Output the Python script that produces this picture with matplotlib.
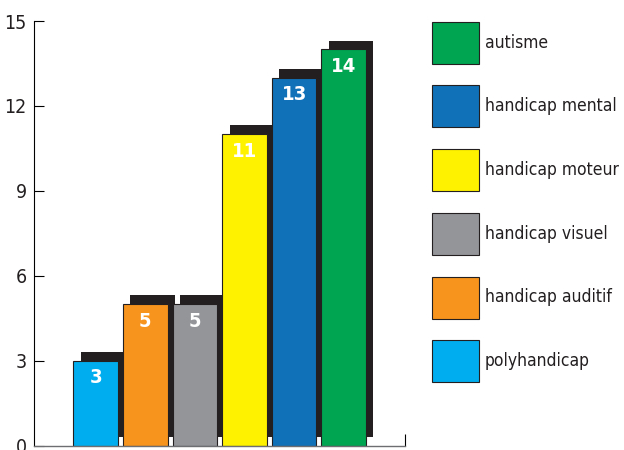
import numpy as np
import matplotlib.pyplot as plt
from matplotlib.patches import Rectangle

categories = ['polyhandicap', 'handicap auditif', 'handicap visuel',
              'handicap moteur', 'handicap mental', 'autisme']
values = [3, 5, 5, 11, 13, 14]
colors = ['#00aeef', '#f7941d', '#939598', '#fff200', '#1071b9', '#00a551']
yticks = [0, 3, 6, 9, 12, 15]

shadow_col = '#231f20'
font = 'DejaVu Sans'

fig = plt.figure(figsize=(6.24, 4.5), dpi=100)
ax = fig.add_axes([0.0537, 0.0096, 0.5953, 0.9437])

x = np.arange(len(values))
width = 0.9
dx, dy = 0.15, 0.31

# shadows behind the bars (shifted up and right)
ax.bar(x + dx, values, width=width, bottom=dy, color=shadow_col, zorder=1)
ax.bar(x, values, width=width, color=colors, edgecolor=shadow_col,
       linewidth=0.8, zorder=2)

for xi, v in zip(x, values):
    ax.text(xi, v - 0.6, str(v), ha='center', va='center', color='white',
            fontsize=14.5, fontweight='bold', family=font, stretch='condensed',
            zorder=3)

ax.set_xlim(-1.254, 6.236)
ax.set_ylim(0, 15)
ax.set_yticks(yticks)
ax.set_yticklabels([str(t) for t in yticks], family=font, stretch='condensed',
                   fontsize=14, color='#231f20')
ax.tick_params(axis='y', direction='in', length=7, width=0.8, pad=5)
ax.set_xticks([6.236])
ax.set_xticklabels([''])
ax.tick_params(axis='x', direction='in', length=9, width=0.8)
for s in ['top', 'right']:
    ax.spines[s].set_visible(False)
ax.spines['left'].set_linewidth(0.8)
ax.spines['bottom'].set_color('#6d6e71')
ax.spines['bottom'].set_linewidth(1.0)

# legend drawn by hand, autisme on top
box_w, box_h = 47 / 624, 42 / 450
top = 1 - 21.7 / 450
step = 63.7 / 450
for i, (lab, col) in enumerate(zip(categories[::-1], colors[::-1])):
    y0 = top - i * step - box_h
    fig.patches.append(Rectangle((431.7 / 624, y0), box_w, box_h,
                                 transform=fig.transFigure, facecolor=col,
                                 edgecolor=shadow_col, linewidth=0.8))
    fig.text(485 / 624, y0 + box_h / 2, lab, ha='left', va='center',
             fontsize=12.5, family=font, stretch='condensed', color='#231f20')

fig.savefig('out.png', dpi=100)
